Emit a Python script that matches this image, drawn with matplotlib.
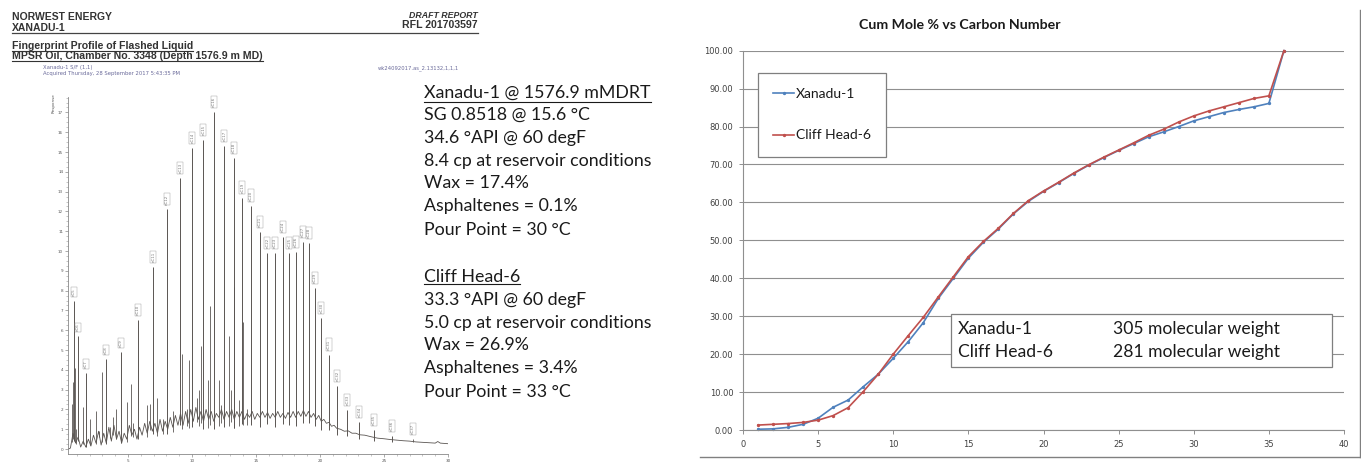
import numpy as np
import matplotlib
matplotlib.use('Agg')
import matplotlib.pyplot as plt
from matplotlib.lines import Line2D
from matplotlib.patches import Rectangle

# ---------------- data: chromatogram (left) ----------------
peak_names = ["nC5", "nC6", "nC7", "nC8", "nC9", "nC10", "nC11", "nC12", "nC13", "nC14",
              "nC15", "nC16", "nC17", "nC18", "nC19", "nC20", "nC21", "nC22", "nC23", "nC24",
              "nC25", "nC26", "nC27", "nC28", "nC29", "nC30", "nC31", "nC32", "nC33", "nC34",
              "nC35", "nC36"]
peak_time = [0.78, 1.07, 1.72, 3.28, 4.45, 5.78, 6.98, 8.05, 9.09, 10.03,
             10.89, 11.72, 12.53, 13.28, 13.93, 14.61, 15.29, 15.89, 16.48, 17.08,
             17.60, 18.13, 18.65, 19.11, 19.58, 20.10, 20.70, 21.35, 22.14, 23.07,
             24.22, 25.60]
peak_height = [7.5, 5.7, 3.85, 4.57, 4.9, 6.5, 9.2, 12.1, 13.7, 15.2,
               15.6, 17.0, 15.3, 14.7, 12.7, 12.3, 10.96, 9.9, 9.9, 10.7,
               9.9, 9.95, 10.45, 10.4, 8.15, 6.6, 4.77, 3.18, 1.97, 1.38,
               0.96, 0.67]
late_peak_time = [27.24]
late_peak_height = [0.5]
late_peak_name = ["nC37"]

minor_time = [0.63, 0.68, 0.83, 0.94, 1.46, 2.03, 2.47, 2.71, 3.00, 3.59, 3.85, 4.04,
              4.90, 5.21, 5.42, 6.46, 6.72, 7.24, 7.76, 8.54, 9.22, 9.58, 9.77,
              10.36, 10.57, 10.70, 11.28, 11.41, 12.14, 12.24, 12.86, 13.07, 13.28,
              13.64, 13.98, 14.27]
minor_height = [2.3, 3.4, 4.1, 1.0, 2.1, 1.5, 1.9, 0.9, 3.9, 1.1, 1.6, 2.0,
                2.4, 3.3, 1.3, 2.2, 2.3, 2.6, 1.5, 1.9, 4.8, 2.0, 4.5,
                2.6, 3.0, 5.2, 3.5, 7.2, 3.5, 2.2, 5.7, 3.0, 8.2,
                2.5, 6.4, 2.0]

base_time = [0.35, 0.5, 0.7, 0.9, 1.1, 1.3, 1.5, 1.7, 1.9, 2.1, 2.3, 2.5, 2.7, 2.9,
             3.1, 3.3, 3.5, 3.7, 3.9, 4.1, 4.3, 4.5, 4.7, 4.9, 5.1, 5.3, 5.5, 5.7,
             5.9, 6.1, 6.3, 6.5, 6.7, 6.9, 7.1, 7.3, 7.5, 7.7, 7.9, 8.1, 8.3, 8.5,
             8.7, 8.9, 9.1, 9.3, 9.5, 9.7, 9.9, 10.1, 10.3, 10.5, 10.7, 10.9, 11.1,
             11.3, 11.5, 11.7, 11.9, 12.1, 12.3, 12.5, 12.7, 12.9, 13.1, 13.3, 13.5,
             13.7, 13.9, 14.1, 14.3, 14.5, 14.7, 14.9, 15.1, 15.3, 15.5, 15.7, 15.9,
             16.1, 16.3, 16.5, 16.7, 16.9, 17.1, 17.3, 17.5, 17.7, 17.9, 18.1, 18.3,
             18.5, 18.7, 18.9, 19.1, 19.3, 19.5, 19.7, 19.9, 20.1, 20.3, 20.5, 20.7,
             20.9, 21.1, 21.3, 21.6, 21.9, 22.2, 22.5, 22.8, 23.1, 23.5, 24.0, 24.5,
             25.0, 25.5, 26.0, 26.5, 27.0, 27.5, 28.0, 28.5, 29.0, 29.2, 29.4, 30.0]
base_resp = [0.0, 0.05, 0.8, 0.3, 0.6, 0.1, 0.4, 0.1, 0.5, 0.15, 0.7, 0.3, 0.9, 0.2,
             0.8, 0.3, 1.1, 0.4, 1.2, 0.5, 0.9, 0.3, 0.8, 0.5, 1.2, 0.7, 1.0, 0.5,
             1.1, 0.7, 1.3, 0.8, 1.4, 0.9, 1.3, 0.8, 1.5, 0.9, 1.4, 1.0, 1.6, 1.1,
             1.7, 1.2, 1.8, 1.2, 1.9, 1.3, 2.0, 1.4, 2.1, 1.5, 1.9, 1.4, 2.0,
             1.5, 1.9, 1.4, 1.8, 1.6, 2.0, 1.5, 1.9, 1.6, 2.0, 1.5, 1.9,
             1.6, 1.9, 1.5, 1.8, 1.6, 1.9, 1.5, 1.8, 1.6, 1.9, 1.6, 1.85,
             1.55, 1.8, 1.6, 1.9, 1.6, 1.8, 1.55, 1.85, 1.6, 1.9, 1.6, 1.9,
             1.65, 1.95, 1.65, 1.9, 1.6, 1.8, 1.5, 1.7, 1.4, 1.5, 1.3, 1.35,
             1.15, 1.2, 1.05, 1.0, 0.9, 0.92, 0.8, 0.8, 0.72, 0.7, 0.62, 0.55,
             0.52, 0.48, 0.45, 0.42, 0.4, 0.36, 0.34, 0.32, 0.3, 0.38, 0.3, 0.27]

chrom_xticks = [5, 10, 15, 20, 25, 30]
chrom_yticks = list(range(0, 18))

# ---------------- data: cumulative mole % (right) ----------------
carbon = list(range(1, 37))
xanadu = [0.2, 0.3, 0.7, 1.5, 3.1, 6.0, 7.9, 11.4, 14.7, 18.9, 23.3, 28.3, 34.7, 40.0,
          45.3, 49.5, 53.0, 57.0, 60.3, 62.9, 65.2, 67.6, 69.8, 71.8, 73.7, 75.5,
          77.3, 78.6, 80.0, 81.5, 82.6, 83.7, 84.5, 85.2, 86.1, 100.0]
cliff = [1.3, 1.5, 1.7, 2.0, 2.6, 3.8, 5.9, 10.1, 14.7, 20.0, 24.9, 29.7, 35.1, 40.4,
         45.7, 49.7, 53.2, 57.1, 60.5, 63.0, 65.3, 67.7, 69.9, 71.9, 73.8, 75.7,
         77.7, 79.3, 81.2, 82.8, 84.1, 85.2, 86.3, 87.4, 88.1, 100.0]
series_names = ["Xanadu-1", "Cliff Head-6"]
mol_weights = ["305 molecular weight", "281 molecular weight"]
cum_xticks = [0, 5, 10, 15, 20, 25, 30, 35, 40]
cum_yticks = [0, 10, 20, 30, 40, 50, 60, 70, 80, 90, 100]

xanadu_props = ["SG 0.8518 @ 15.6 °C", "34.6 °API @ 60 degF",
                "8.4 cp at reservoir conditions", "Wax = 17.4%",
                "Asphaltenes = 0.1%", "Pour Point = 30 °C"]
cliff_props = ["33.3 °API @ 60 degF", "5.0 cp at reservoir conditions",
               "Wax = 26.9%", "Asphaltenes = 3.4%", "Pour Point = 33 °C"]

# ---------------- figure ----------------
W, H = 1361, 470
fig = plt.figure(figsize=(W / 100, H / 100), dpi=100)
fig.patch.set_facecolor('white')


def fx(px):
    return px / W


def fy(py):
    return 1 - py / H


# ---- header (left) ----
hdr = dict(family='Liberation Sans', fontweight='bold', color='#333333', va='center')
fig.text(fx(12), fy(16.5), "NORWEST ENERGY", fontsize=7.5, **hdr)
fig.text(fx(12), fy(28), "XANADU-1", fontsize=7.5, **hdr)
fig.text(fx(478), fy(15), "DRAFT REPORT", fontsize=6.3, ha='right', style='italic', **hdr)
fig.text(fx(478), fy(24.5), "RFL 201703597", fontsize=7.6, ha='right', **hdr)
fig.add_artist(Line2D([fx(12), fx(478)], [fy(32.5), fy(32.5)], color='#444444', lw=0.9))

t1 = fig.text(fx(12), fy(46.3), "Fingerprint Profile of Flashed Liquid", fontsize=7.6, **hdr)
t2 = fig.text(fx(12), fy(55.8), "MPSR Oil, Chamber No. 3348 (Depth 1576.9 m MD)", fontsize=7.6, **hdr)
fig.text(fx(43), fy(68), "Xanadu-1 S/F (1,1)", fontsize=3.8, color='#6a6a9a', va='center')
fig.text(fx(43), fy(73), "Acquired Thursday, 28 September 2017 5:43:35 PM", fontsize=3.8,
         color='#6a6a9a', va='center')
fig.text(fx(459), fy(68), "wk24092017.as_2.13132,1,1,1", fontsize=3.8, color='#6a6a9a',
         va='center', ha='right')

# ---- chromatogram ----
ax1 = fig.add_axes([fx(68), fy(454), fx(448) - fx(68), fy(96.6) - fy(454)])
ax1.set_xlim(0.31, 30)
ax1.set_ylim(-0.25, 17.8)
for s in ['top', 'right']:
    ax1.spines[s].set_visible(False)
for s in ['left', 'bottom']:
    ax1.spines[s].set_color('#888888')
    ax1.spines[s].set_linewidth(0.6)
ax1.set_xticks(chrom_xticks)
ax1.set_xticks(np.arange(1, 31, 1), minor=True)
ax1.set_yticks(chrom_yticks)
ax1.set_yticks(np.arange(0, 17.8, 0.25), minor=True)
ax1.tick_params(axis='both', which='major', labelsize=3, length=2.5, width=0.5,
                color='#888888', labelcolor='#555555', pad=1)
ax1.tick_params(axis='both', which='minor', length=1.2, width=0.4, color='#999999')

sig_col = '#5a5552'
ax1.plot(base_time, base_resp, color=sig_col, lw=0.6)
mb = np.interp(minor_time, base_time, base_resp) * 0.7
ax1.vlines(minor_time, mb, minor_height, color=sig_col, lw=0.6)
pb = np.interp(peak_time, base_time, base_resp) * 0.7
ax1.vlines(peak_time, pb, peak_height, color=sig_col, lw=0.7)
lb = np.interp(late_peak_time, base_time, base_resp)
ax1.vlines(late_peak_time, lb, late_peak_height, color=sig_col, lw=0.6)
for t, h, n in zip(peak_time + late_peak_time, peak_height + late_peak_height,
                   peak_names + late_peak_name):
    ax1.text(t, h + 0.25, n, rotation=90, fontsize=2.8, ha='center', va='bottom',
             color='#777777',
             bbox=dict(boxstyle='square,pad=0.25', fc='white', ec='#999999', lw=0.3))
fig.text(fx(54), fy(103), "Response", rotation=90, fontsize=3, color='#555555',
         ha='center', va='center')

# ---- property text block ----
blk = dict(family='Lato', fontsize=12.8, color='#1a1a1a', va='center', ha='left')
h1 = fig.text(fx(424), fy(93), "Xanadu-1 @ 1576.9 mMDRT", **blk)
ys1 = [115, 138, 161, 183, 206, 230]
for y, s in zip(ys1, xanadu_props):
    fig.text(fx(424), fy(y), s, **blk)
h2 = fig.text(fx(424), fy(277), "Cliff Head-6", **blk)
ys2 = [300, 323, 345, 368, 392]
for y, s in zip(ys2, cliff_props):
    fig.text(fx(424), fy(y), s, **blk)

# ---- cumulative mole % chart ----
ax2 = fig.add_axes([fx(743), fy(430), fx(1344) - fx(743), fy(50.7) - fy(430)])
ax2.set_xlim(0, 40)
ax2.set_ylim(0, 100)
ax2.set_xticks(cum_xticks)
ax2.set_yticks(cum_yticks)
ax2.set_yticklabels([f"{v:.2f}" for v in cum_yticks])
ax2.yaxis.grid(True, color='#8f8f8f', lw=0.8)
ax2.set_axisbelow(True)
for s in ['top', 'right']:
    ax2.spines[s].set_visible(False)
for s in ['left', 'bottom']:
    ax2.spines[s].set_color('#8f8f8f')
    ax2.spines[s].set_linewidth(0.8)
ax2.tick_params(axis='both', labelsize=6, length=3, width=0.7, color='#8f8f8f',
                labelcolor='#404040', pad=4)
for lab in ax2.get_xticklabels() + ax2.get_yticklabels():
    lab.set_family('DejaVu Sans')

l1, = ax2.plot(carbon, xanadu, color='#4F81BD', lw=1.2, marker='o', ms=1.4,
               label=series_names[0], clip_on=False)
l2, = ax2.plot(carbon, cliff, color='#C0504D', lw=1.2, marker='o', ms=1.4,
               label=series_names[1], clip_on=False)

leg = ax2.legend(handles=[l1, l2], loc='upper left',
                 bbox_to_anchor=(fx(758), fy(73)), bbox_transform=fig.transFigure,
                 borderaxespad=0,
                 fancybox=False, edgecolor='#7f7f7f', framealpha=1, borderpad=1.1,
                 labelspacing=2.1, handlelength=1.5, handletextpad=0.15,
                 prop=dict(family='Lato', size=10))
leg.get_frame().set_linewidth(0.9)
for txt in leg.get_texts():
    txt.set_color('#1a1a1a')

fig.add_artist(Rectangle((fx(951), fy(367)), fx(1332) - fx(951), fy(314) - fy(367),
                         transform=fig.transFigure, fc='white', ec='#7f7f7f', lw=0.9,
                         zorder=5))
ann = dict(family='Lato', fontsize=12.6, color='#1a1a1a', va='center', ha='left', zorder=6)
fig.text(fx(958), fy(329), series_names[0], **ann)
fig.text(fx(958), fy(352), series_names[1], **ann)
fig.text(fx(1113), fy(329), mol_weights[0], **ann)
fig.text(fx(1113), fy(352), mol_weights[1], **ann)

fig.text(fx(960), fy(25), "Cum Mole % vs Carbon Number", family='Lato', fontweight='bold',
         fontsize=10.2, ha='center', va='center', color='#1a1a1a')

fig.add_artist(Line2D([fx(700), fx(1360)], [fy(457), fy(457)], color='#808080', lw=1.0))
fig.add_artist(Line2D([fx(1360), fx(1360)], [fy(10), fy(457)], color='#808080', lw=1.0))

# ---- underlines ----
fig.canvas.draw()
r = fig.canvas.get_renderer()
for t, y in [(t1, 51.0), (t2, 60.6), (h1, 102), (h2, 284)]:
    bb = t.get_window_extent(r)
    fig.add_artist(Line2D([bb.x0 / W, bb.x1 / W], [fy(y), fy(y)],
                          color=t.get_color(), lw=0.8))

fig.savefig('out.png', dpi=100, facecolor='white')
